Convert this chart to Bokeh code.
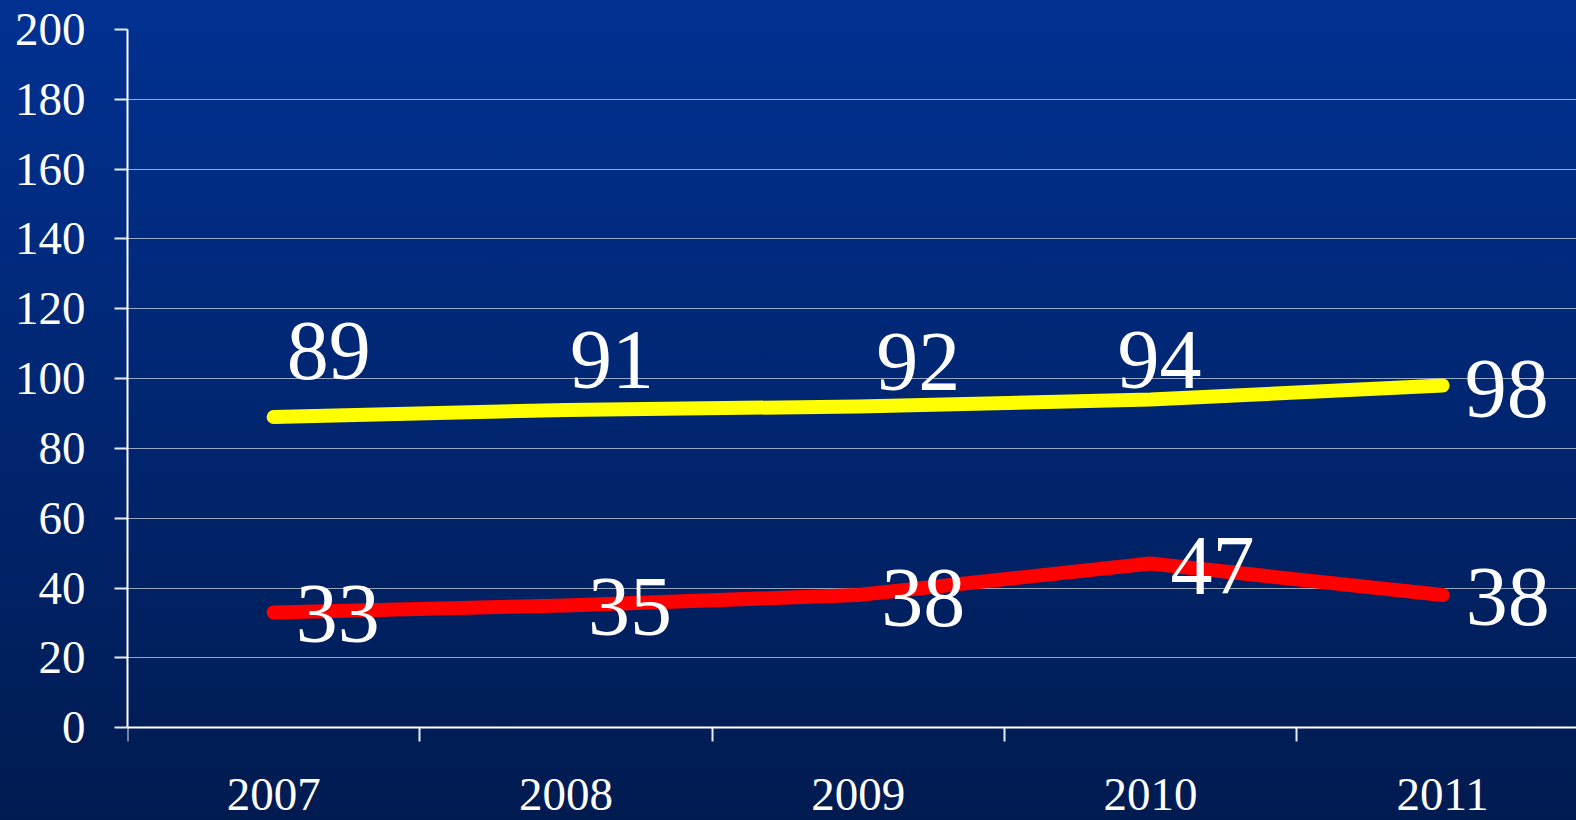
from bokeh.plotting import figure
from bokeh.models import FixedTicker, Range1d, ColumnDataSource, LinearAxis, Grid
from bokeh.core.properties import value
from bokeh.embed import file_html
from bokeh.resources import INLINE

# ---- data ----
years = ["2007", "2008", "2009", "2010", "2011"]
yellow_values = [89, 91, 92, 94, 98]
red_values = [33, 35, 38, 47, 38]
y_ticks = [0, 20, 40, 60, 80, 100, 120, 140, 160, 180, 200]

# ---- label placement (screen px offsets from each point) ----
yellow_dx = [55, 46, 60, 9, 64]
yellow_dy = [-38, -22, -16, -12, 31]
red_dx = [64, 64, 65, 62, 65]
red_dy = [30, 30, 31, 30, 30]
BASE_SHIFT = -28

FONT = "Liberation Serif"
W, H = 1576, 820

xpos = [i + 0.5 for i in range(len(years))]

p = figure(width=W, height=H, output_backend="svg", toolbar_location=None,
           x_range=Range1d(0, 4.958), y_range=Range1d(-26.6, 200),
           min_border_left=127, min_border_right=0, min_border_top=29,
           min_border_bottom=0, x_axis_location=None, y_axis_location=None)
p.background_fill_alpha = 0
p.border_fill_alpha = 0
p.outline_line_color = None
p.styles = {"background": "linear-gradient(to bottom, #003192 0%, #001b50 100%)"}
p.xgrid.visible = False
p.ygrid.visible = False

# y axis
yax = LinearAxis(ticker=FixedTicker(ticks=y_ticks, minor_ticks=[]), bounds=(0, 200))
yax.axis_line_color = "white"
yax.axis_line_width = 2
yax.major_tick_out = 13
yax.major_tick_in = 0
yax.major_tick_line_color = "#e8ecf5"
yax.major_tick_line_width = 2
yax.minor_tick_line_color = None
yax.major_label_text_font = FONT
yax.major_label_text_font_size = "47px"
yax.major_label_text_color = "white"
yax.major_label_standoff = 29
p.add_layout(yax, "left")

# x axis (labels at category centres, tick marks at category boundaries)
xax = LinearAxis(ticker=FixedTicker(ticks=xpos, minor_ticks=[i for i in range(len(years) + 1)]),
                 fixed_location=0)
xax.major_label_overrides = {x: y for x, y in zip(xpos, years)}
xax.axis_line_color = "white"
xax.axis_line_width = 2
xax.major_tick_out = 0
xax.major_tick_in = 0
xax.major_tick_line_color = None
xax.minor_tick_out = 14
xax.minor_tick_in = 0
xax.minor_tick_line_color = "#e8ecf5"
xax.minor_tick_line_width = 2
xax.major_label_text_font = FONT
xax.major_label_text_font_size = "47px"
xax.major_label_text_color = "white"
xax.major_label_standoff = 37
p.add_layout(xax, "below")

grid = Grid(dimension=1, ticker=yax.ticker, grid_line_color="white",
            grid_line_alpha=0.6, grid_line_width=1)
p.add_layout(grid)

src_y = ColumnDataSource(dict(x=xpos, y=yellow_values, t=[str(v) for v in yellow_values],
                              dx=yellow_dx, dy=[d + BASE_SHIFT for d in yellow_dy]))
src_r = ColumnDataSource(dict(x=xpos, y=red_values, t=[str(v) for v in red_values],
                              dx=red_dx, dy=[d + BASE_SHIFT for d in red_dy]))

p.line("x", "y", source=src_y, line_color="#FFFF00", line_width=14,
       line_cap="round", line_join="round")
p.line("x", "y", source=src_r, line_color="#FF0000", line_width=14,
       line_cap="round", line_join="round")

for src in (src_y, src_r):
    p.text("x", "y", text="t", source=src, x_offset="dx", y_offset="dy",
           text_font=value(FONT), text_font_size="84px", text_color="white",
           text_align="center", text_baseline="alphabetic")

open("out.html", "w").write(file_html(p, INLINE))
